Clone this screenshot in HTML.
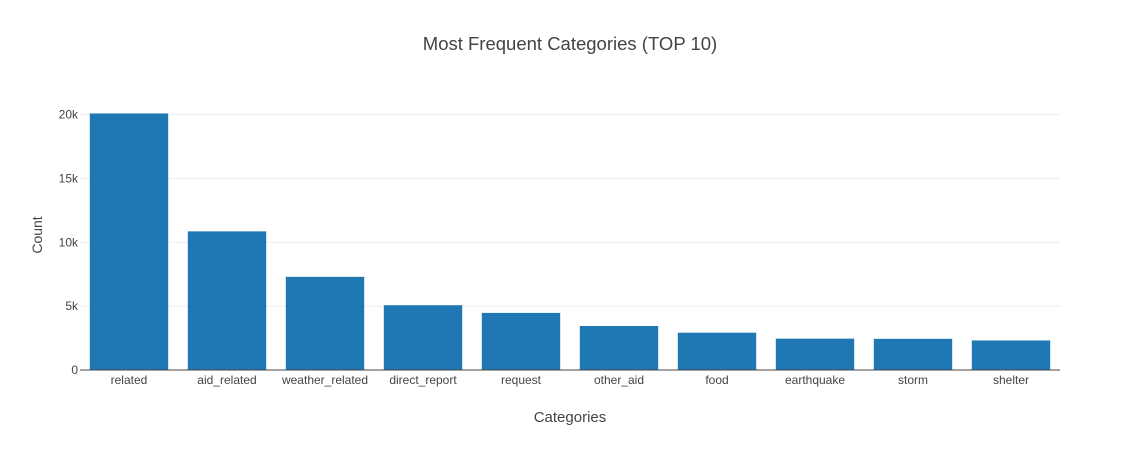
<!DOCTYPE html>
<html><head><meta charset="utf-8"><style>
body{margin:0;background:#fff;width:1140px;height:450px;overflow:hidden;font-family:"Liberation Sans",sans-serif}
</style></head><body>
<svg width="1140" height="450" id="c">
<text x="570" y="50" text-anchor="middle" font-size="18.5" fill="#444">Most Frequent Categories (TOP 10)</text>
<text x="570" y="422" text-anchor="middle" font-size="15" fill="#444">Categories</text>
<text transform="translate(42,235) rotate(-90)" text-anchor="middle" font-size="14" fill="#444">Count</text>
<g id="grid"></g><g id="bars"></g><g id="xl"></g>
<line x1="80" x2="1060" y1="370" y2="370" stroke="#444" stroke-width="1"/>
</svg>
<script>
const categories=["related","aid_related","weather_related","direct_report","request","other_aid","food","earthquake","storm","shelter"];
const counts=[20094,10860,7297,5075,4474,3446,2923,2455,2443,2314];
const yTicks=[0,5000,10000,15000,20000];
const yTickLabels=["0","5k","10k","15k","20k"];
const L=80,R=1060,T=100,B=370,yMax=21150;
const ns="http://www.w3.org/2000/svg";
const y=v=>B-(v/yMax)*(B-T);
const band=(R-L)/categories.length;
const x=i=>L+band*i;
function mk(t,a,p){const e=document.createElementNS(ns,t);for(const k in a)e.setAttribute(k,a[k]);p.appendChild(e);return e;}
const g=document.getElementById('grid');
yTicks.forEach((v,i)=>{
 if(v>0){const l=mk('line',{x1:L,x2:R,y1:y(v),y2:y(v),stroke:'#eee'},g);
 
 }
 const t=mk('text',{x:L-2,y:y(v)+4,'text-anchor':'end','font-size':12,fill:'#444'},g);
 t.textContent=yTickLabels[i];
 
 
});
const bg=document.getElementById('bars'),xl=document.getElementById('xl');
categories.forEach((c,i)=>{
 const r=mk('rect',{x:x(i)+band*0.1,y:y(counts[i]),width:band*0.8,height:B-y(counts[i]),fill:'#1f77b4'},bg);
 
 
 const t=mk('text',{x:x(i)+band/2,y:B+14,'text-anchor':'middle','font-size':12,fill:'#444'},xl);
 t.textContent=c;
 
 
});
</script>
</body></html>
